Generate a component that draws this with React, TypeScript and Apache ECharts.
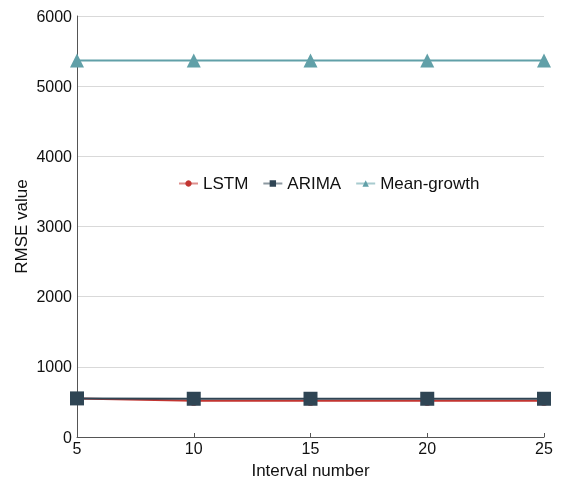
import React, { useEffect, useRef } from "react";
import * as echarts from "echarts";

const intervals = ["5", "10", "15", "20", "25"];
const lstm = [550, 515, 515, 515, 515];
const arima = [550, 545, 545, 545, 545];
const meanGrowth = [5365, 5365, 5365, 5365, 5365];

export default function App() {
  const ref = useRef<HTMLDivElement>(null);
  useEffect(() => {
    const chart = echarts.init(ref.current!, null, { renderer: "svg" });
    const font = "'Liberation Sans', Arial, sans-serif";
    chart.setOption({
      animation: false,
      textStyle: { fontFamily: font },
      grid: { left: 77, right: 19, top: 16, bottom: 47 },
      legend: {
        left: 178,
        top: 175,
        itemWidth: 19,
        itemHeight: 8,
        itemGap: 14,
        padding: 0,
        lineStyle: { opacity: 0.55 },
        textStyle: { fontSize: 17, color: "#111", fontFamily: font },
        data: ["LSTM", "ARIMA", "Mean-growth"],
      },
      xAxis: {
        type: "category",
        data: intervals,
        boundaryGap: false,
        name: "Interval number",
        nameLocation: "middle",
        nameGap: 25,
        nameTextStyle: { fontSize: 17, color: "#111", fontFamily: font },
        axisLine: { lineStyle: { color: "#555" } },
        axisTick: { inside: true, length: 4, alignWithLabel: true, lineStyle: { color: "#555" } },
        axisLabel: { fontSize: 16, color: "#111", margin: 3, fontFamily: font },
        splitLine: { show: false },
      },
      yAxis: {
        type: "value",
        min: 0,
        max: 6000,
        interval: 1000,
        name: "RMSE value",
        nameLocation: "middle",
        nameGap: 47,
        nameMoveOverlap: false,
        nameTextStyle: { fontSize: 17, color: "#111", fontFamily: font },
        axisLine: { show: true, lineStyle: { color: "#555" } },
        axisTick: { show: false },
        axisLabel: {
          fontSize: 16,
          color: "#111",
          margin: 5,
          fontFamily: font,
          formatter: (v: number) => String(v),
        },
        splitLine: { lineStyle: { color: "#d9d9d9" } },
      },
      series: [
        {
          name: "LSTM",
          type: "line",
          data: lstm,
          color: "#c23531",
          symbol: "circle",
          symbolSize: 10,
          lineStyle: { width: 2 },
        },
        {
          name: "ARIMA",
          type: "line",
          data: arima,
          color: "#2f4554",
          symbol: "rect",
          symbolSize: 14,
          lineStyle: { width: 2 },
        },
        {
          name: "Mean-growth",
          type: "line",
          data: meanGrowth,
          color: "#61a0a8",
          symbol: "triangle",
          symbolSize: 14,
          lineStyle: { width: 2 },
        },
      ],
    });
    return () => chart.dispose();
  }, []);
  return (
    <div
      ref={ref}
      style={{ position: "fixed", left: 0, top: 0, width: 563, height: 484 }}
    />
  );
}
